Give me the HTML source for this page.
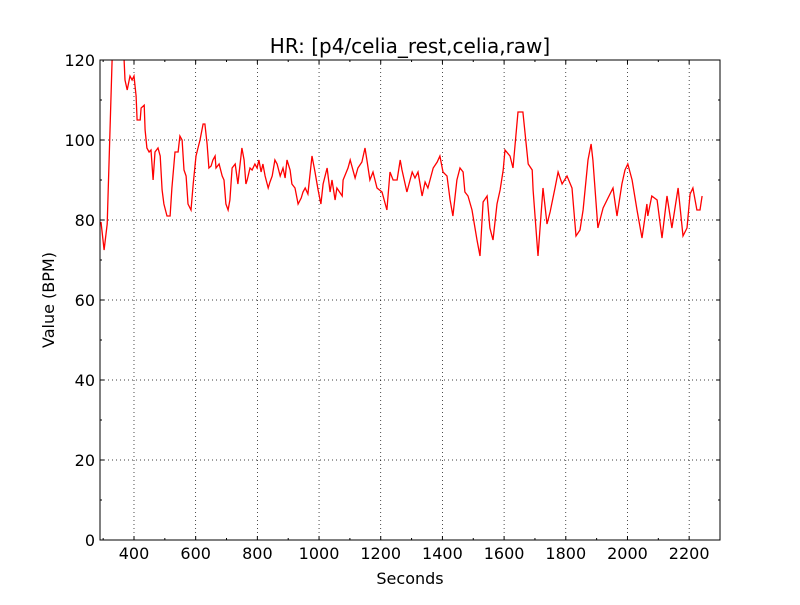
<!DOCTYPE html>
<html><head><meta charset="utf-8"><style>
body{margin:0;background:#fff;}
svg text{font-family:"DejaVu Sans","Liberation Sans",sans-serif;}
</style></head><body>
<svg id="chart" width="800" height="600" xmlns="http://www.w3.org/2000/svg"></svg>
<script>
const seconds=[293,303,313,329,339,361,368,371,378,387,394,400,407,410,420,423,433,436,442,449,455,462,468,478,485,491,497,507,517,523,533,543,549,556,562,569,575,585,592,601,614,624,630,637,643,650,656,663,666,676,686,692,698,705,711,718,728,737,744,750,757,763,767,776,783,792,799,805,812,818,825,835,841,848,857,864,874,883,890,896,906,912,922,932,942,948,955,964,977,987,997,1006,1013,1026,1036,1042,1052,1058,1075,1078,1094,1101,1117,1126,1139,1149,1155,1165,1175,1188,1204,1220,1230,1240,1253,1263,1269,1285,1302,1311,1321,1334,1344,1353,1370,1383,1392,1402,1415,1425,1434,1447,1457,1467,1473,1483,1496,1512,1522,1532,1545,1554,1564,1577,1587,1597,1603,1619,1629,1645,1661,1678,1691,1694,1710,1726,1739,1749,1765,1775,1788,1804,1820,1833,1846,1856,1872,1882,1888,1904,1921,1937,1953,1966,1982,1992,2001,2015,2031,2047,2063,2066,2079,2096,2112,2128,2144,2164,2180,2193,2203,2212,2225,2235,2242];
const bpm=[79.5,72.5,79,120,125,125,120,115,112.5,116,115,116,111,105,105,108,108.7,102.5,98,97,97.5,90,97,98,96,87.5,84,81,81,88,97,97,101,100,92.5,91,84,82.5,89,96,100,104,104,99,93,93.5,95,96,93,94,91,90,84,82.5,85,93,94,89,94,98,95,89,90,93,92.5,94,93,95,92,94,91,88,89.5,91,95,94,91,93,90.5,95,92.5,89,88,84,85.5,87,88,86.5,96,92,87.5,84,89,93,87,90,85,88,86,90,93,95,90.5,93,94.5,98,95,90,92,88,87,82.5,92,90,90,95,92.5,87,92,90.5,92,86,89.5,88,93,94.5,96,92,91,85,81,90,93,92,87,86,82.5,75,71,84.5,86,78,75,84,87.5,92.5,97.5,96,93,107,107,94,92.5,87.5,71,88,79,82,88,92,89,91,88,76,77.5,82.5,95,99,95,78,83,85.5,88,81,89,92.5,94,90,82.5,75.5,84,81,86,85,75.5,86,78,88,76,78,86.5,88,82.5,82.5,86];
const xTicks=[400,600,800,1000,1200,1400,1600,1800,2000,2200];
const yTicks=[0,20,40,60,80,100,120];
const xMin=289.8,xMax=2300,yMin=0,yMax=120;
const L=100,R=720,T=60,B=540;
const X=v=>L+(v-xMin)/(xMax-xMin)*(R-L);
const Y=v=>B-(v-yMin)/(yMax-yMin)*(B-T);
const svg=document.getElementById('chart');
const NS='http://www.w3.org/2000/svg';
function mk(tag,attrs,parent){const e=document.createElementNS(NS,tag);for(const k in attrs)e.setAttribute(k,attrs[k]);(parent||svg).appendChild(e);return e;}
const defs=mk('defs',{});
const cp=mk('clipPath',{id:'clip'},defs);
mk('rect',{x:L,y:T,width:R-L,height:B-T},cp);
const grid=mk('g',{});


xTicks.forEach(v=>{mk('line',{x1:X(v),x2:X(v),y1:T,y2:B,stroke:'#000','stroke-width':0.7,'stroke-dasharray':'1,3'},grid);});
yTicks.forEach(v=>{mk('line',{x1:L,x2:R,y1:Y(v),y2:Y(v),stroke:'#000','stroke-width':0.7,'stroke-dasharray':'1,3'},grid);});
const ticks=mk('g',{stroke:'#000','stroke-width':1});


for(let v=300;v<=2300;v+=100){const x=X(v);const len=(v%200===0)?4:2;mk('line',{x1:x,x2:x,y1:B,y2:B-len},ticks);mk('line',{x1:x,x2:x,y1:T,y2:T+len},ticks);}
for(let v=0;v<=120;v+=10){const y=Y(v);const len=(v%20===0)?4:2;mk('line',{x1:L,x2:L+len,y1:y,y2:y},ticks);mk('line',{x1:R,x2:R-len,y1:y,y2:y},ticks);}
const line=mk('polyline',{points:seconds.map((s,i)=>X(s).toFixed(1)+','+Y(bpm[i]).toFixed(1)).join(' '),fill:'none',stroke:'#f00','stroke-width':1.3,'clip-path':'url(#clip)'});


const frame=mk('rect',{x:L,y:T,width:R-L,height:B-T,fill:'none',stroke:'#000','stroke-width':1});


xTicks.forEach(v=>{const t=mk('text',{x:X(v),y:B+19,'text-anchor':'middle','font-size':16});t.textContent=v;

});
yTicks.forEach(v=>{const t=mk('text',{x:L-5,y:Y(v)+6,'text-anchor':'end','font-size':16});t.textContent=v;

});
const title=mk('text',{x:410,y:53,'text-anchor':'middle','font-size':20});title.textContent='HR: [p4/celia_rest,celia,raw]';


const xl=mk('text',{x:410,y:584,'text-anchor':'middle','font-size':16});xl.textContent='Seconds';


const yl=mk('text',{x:54,y:300,'text-anchor':'middle','font-size':16,transform:'rotate(-90 54 300)'});yl.textContent='Value (BPM)';


</script>
</body></html>
